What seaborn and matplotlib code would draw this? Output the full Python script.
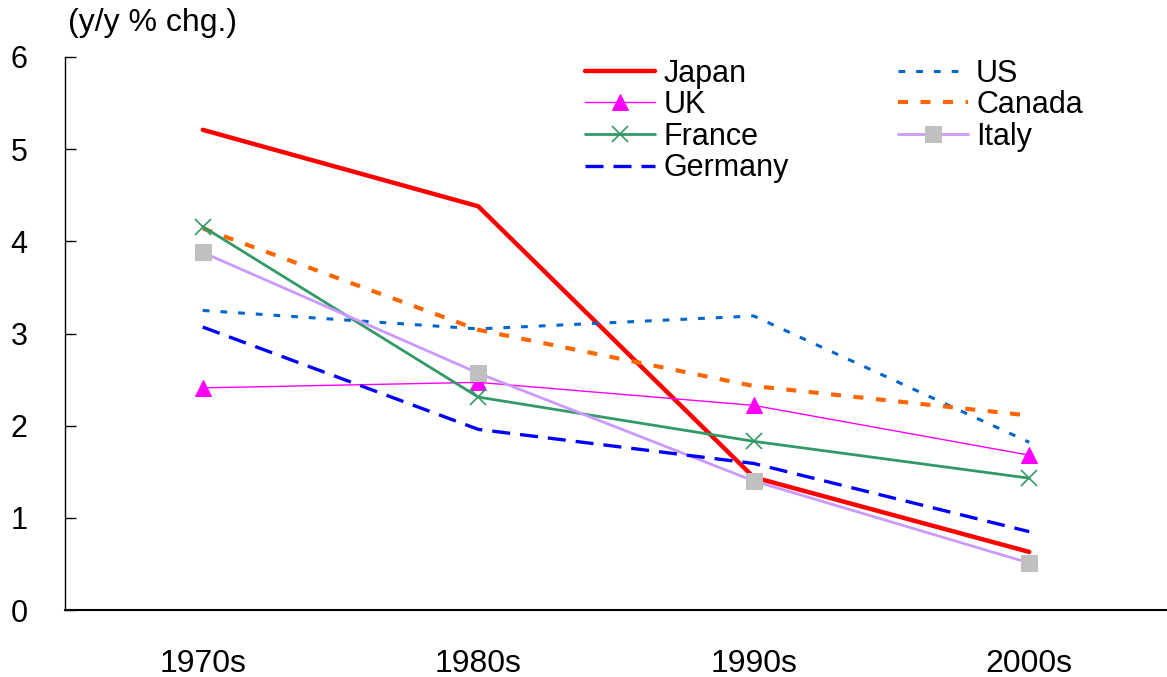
import matplotlib
matplotlib.use("Agg")
import matplotlib.pyplot as plt
import seaborn as sns
from matplotlib.ticker import FixedLocator

# ---------------------------------------------------------------------------
# Data
# ---------------------------------------------------------------------------
decades = ["1970s", "1980s", "1990s", "2000s"]

japan = [5.21, 4.38, 1.44, 0.63]
us = [3.25, 3.05, 3.19, 1.82]
uk = [2.41, 2.47, 2.22, 1.68]
canada = [4.14, 3.04, 2.43, 2.11]
france = [4.16, 2.31, 1.83, 1.43]
italy = [3.88, 2.57, 1.40, 0.51]
germany = [3.07, 1.96, 1.59, 0.85]

y_ticks = [0, 1, 2, 3, 4, 5, 6]
unit_label = "(y/y % chg.)"

# ---------------------------------------------------------------------------
# Styling
# ---------------------------------------------------------------------------
sns.set_style("white")
plt.rcParams["font.family"] = ["Liberation Sans", "DejaVu Sans"]
plt.rcParams["text.color"] = "black"
plt.rcParams["xtick.color"] = "black"
plt.rcParams["ytick.color"] = "black"

fig = plt.figure(figsize=(11.67, 6.77), dpi=100)
ax = fig.add_axes([65 / 1167, 67 / 677, 1102 / 1167, 553 / 677])

# series drawn in the original (Excel) order so the overlaps match
series = [
    ("Japan", japan, dict(color="#FF0000", lw=3.2)),
    ("US", us, dict(color="#0066CC", lw=2.2, linestyle=(0, (2.2, 3.6)))),
    ("UK", uk, dict(color="#FF00FF", lw=1.0, marker="^", markersize=11,
                    markerfacecolor="#FF00FF", markeredgecolor="#FF00FF")),
    ("Canada", canada, dict(color="#FF6600", lw=3.0, linestyle=(0, (2.4, 3.0)))),
    ("France", france, dict(color="#339966", lw=2.0, marker="x", markersize=11,
                            markeredgewidth=1.2, markeredgecolor="#339966")),
    ("Italy", italy, dict(color="#CC99FF", lw=2.0, marker="s", markersize=11,
                          markerfacecolor="#C0C0C0", markeredgecolor="#C0C0C0")),
    ("Germany", germany, dict(color="#0000FF", lw=2.4, linestyle=(0, (5.4, 3.0)))),
]

for name, vals, kw in series:
    sns.lineplot(x=decades, y=vals, ax=ax, label=name, legend=False, **kw)

# ---------------------------------------------------------------------------
# Axes
# ---------------------------------------------------------------------------
ax.set_xlim(-0.5, 3.5)
ax.set_ylim(0, 6)
ax.set_yticks(y_ticks)
ax.set_yticklabels([str(t) for t in y_ticks])
ax.set_xlabel("")
ax.set_ylabel("")

ax.xaxis.set_minor_locator(FixedLocator([0.5, 1.5, 2.5]))
ax.tick_params(axis="x", which="major", length=0, pad=28, labelsize=23)
ax.tick_params(axis="x", which="minor", direction="in", length=8, width=1)
ax.tick_params(axis="y", direction="in", length=8, width=1,
               pad=27, labelsize=22, left=True)

for side in ["top", "right"]:
    ax.spines[side].set_visible(False)
ax.spines["left"].set_color("black")
ax.spines["left"].set_linewidth(1.0)
ax.spines["bottom"].set_color("black")
ax.spines["bottom"].set_linewidth(1.5)

fig.text(68 / 1167, 1 - 23 / 677, unit_label, fontsize=23, va="center",
         ha="left")

# legend: left column Japan/UK/France/Germany, right column US/Canada/Italy
handles, labels = ax.get_legend_handles_labels()
lookup = dict(zip(labels, handles))
order = ["Japan", "UK", "France", "Germany", "US", "Canada", "Italy"]
ax.legend([lookup[n] for n in order], order, ncol=2, frameon=False,
          loc="upper left", bbox_to_anchor=(0.472, 0.997), borderaxespad=0,
          fontsize=22, handlelength=2.3, handletextpad=0.26,
          labelspacing=0.05, columnspacing=3.57, borderpad=0.0)

fig.savefig("out.png", dpi=100)
